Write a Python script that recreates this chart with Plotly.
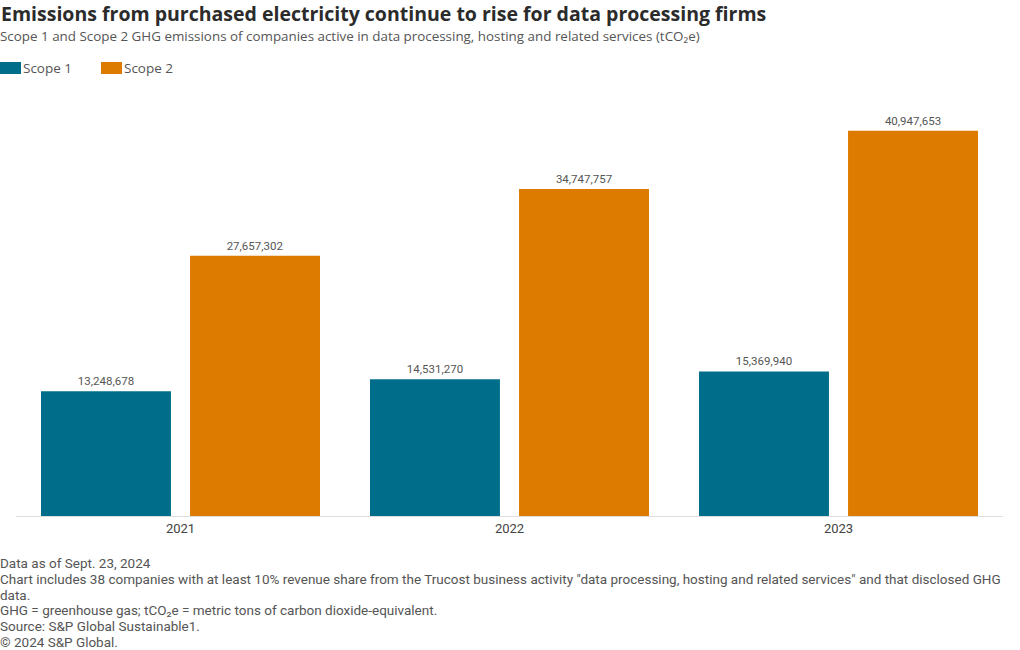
import plotly.graph_objects as go

years = ["2021", "2022", "2023"]
scope1 = [13248678, 14531270, 15369940]
scope2 = [27657302, 34747757, 40947653]
series_names = ["Scope 1", "Scope 2"]
colors = ["#006E8A", "#DD7A00"]

title = "Emissions from purchased electricity continue to rise for data processing firms"
subtitle = "Scope 1 and Scope 2 GHG emissions of companies active in data processing, hosting and related services (tCO₂e)"
notes = [
    "Data as of Sept. 23, 2024",
    "Chart includes 38 companies with at least 10% revenue share from the Trucost business activity \"data processing, hosting and related services\" and that disclosed GHG",
    "data.",
    "GHG = greenhouse gas; tCO₂e = metric tons of carbon dioxide-equivalent.",
    "Source: S&P Global Sustainable1.",
    "© 2024 S&P Global.",
]

W, H = 1020, 650
ml, mr, mt, mb = 16, 17, 102, 134
pw = W - ml - mr
ph = H - mt - mb


def px_x(x):
    return (x - ml) / pw


def px_y(y):
    return (ph + mt - y) / ph


def fmt(v):
    return f"{v:,}"


fig = go.Figure()
for name, vals, col in zip(series_names, [scope1, scope2], colors):
    fig.add_trace(go.Bar(
        x=years, y=vals, name=name, marker=dict(color=col, line=dict(width=0)),
        text=[fmt(v) for v in vals], textposition="outside",
        textfont=dict(family="Roboto", size=11.5, color="#555555"),
        cliponaxis=False, showlegend=False,
    ))

fig.update_layout(
    width=W, height=H,
    margin=dict(l=ml, r=mr, t=mt, b=mb, autoexpand=False),
    paper_bgcolor="white", plot_bgcolor="white",
    barmode="group", bargap=0.094, bargroupgap=0.128,
    font=dict(family="Roboto", color="#333333"),
    showlegend=False,
    xaxis=dict(showline=True, linecolor="#dddddd", linewidth=1, ticks="", showgrid=False,
               tickfont=dict(size=13, color="#444444"), fixedrange=True),
    yaxis=dict(range=[0, 44000000], showgrid=False, zeroline=False, showticklabels=False,
               fixedrange=True),
)

# custom legend
leg_items = [(0, 23), (101, 124)]
for (sx, tx), name, col in zip(leg_items, series_names, colors):
    fig.add_shape(type="rect", xref="paper", yref="paper",
                  x0=px_x(sx), x1=px_x(sx + 21), y0=px_y(74), y1=px_y(62),
                  fillcolor=col, line=dict(width=0))
    fig.add_annotation(text=name, xref="paper", yref="paper",
                       x=px_x(tx - 2), y=px_y(68), xanchor="left", yanchor="middle",
                       showarrow=False, font=dict(size=13.5, color="#555555", family="Open Sans"))

fig.add_annotation(text=f"<b>{title}</b>", xref="paper", yref="paper",
                   x=px_x(-1), y=px_y(14), xanchor="left", yanchor="middle",
                   showarrow=False, font=dict(size=19.5, color="#2b2b2b", family="Open Sans"))
fig.add_annotation(text=subtitle, xref="paper", yref="paper",
                   x=px_x(-2), y=px_y(36), xanchor="left", yanchor="middle",
                   showarrow=False, font=dict(size=13.4, color="#555555", family="Open Sans"))
note_ys = [563, 579, 595, 610, 626, 642]
for line, yy in zip(notes, note_ys):
    fig.add_annotation(text=line, xref="paper", yref="paper",
                       x=px_x(-2), y=px_y(yy), xanchor="left", yanchor="middle",
                       align="left", showarrow=False,
                       font=dict(size=13.5, color="#555555", family="Roboto"))

fig.write_html("out.html")
